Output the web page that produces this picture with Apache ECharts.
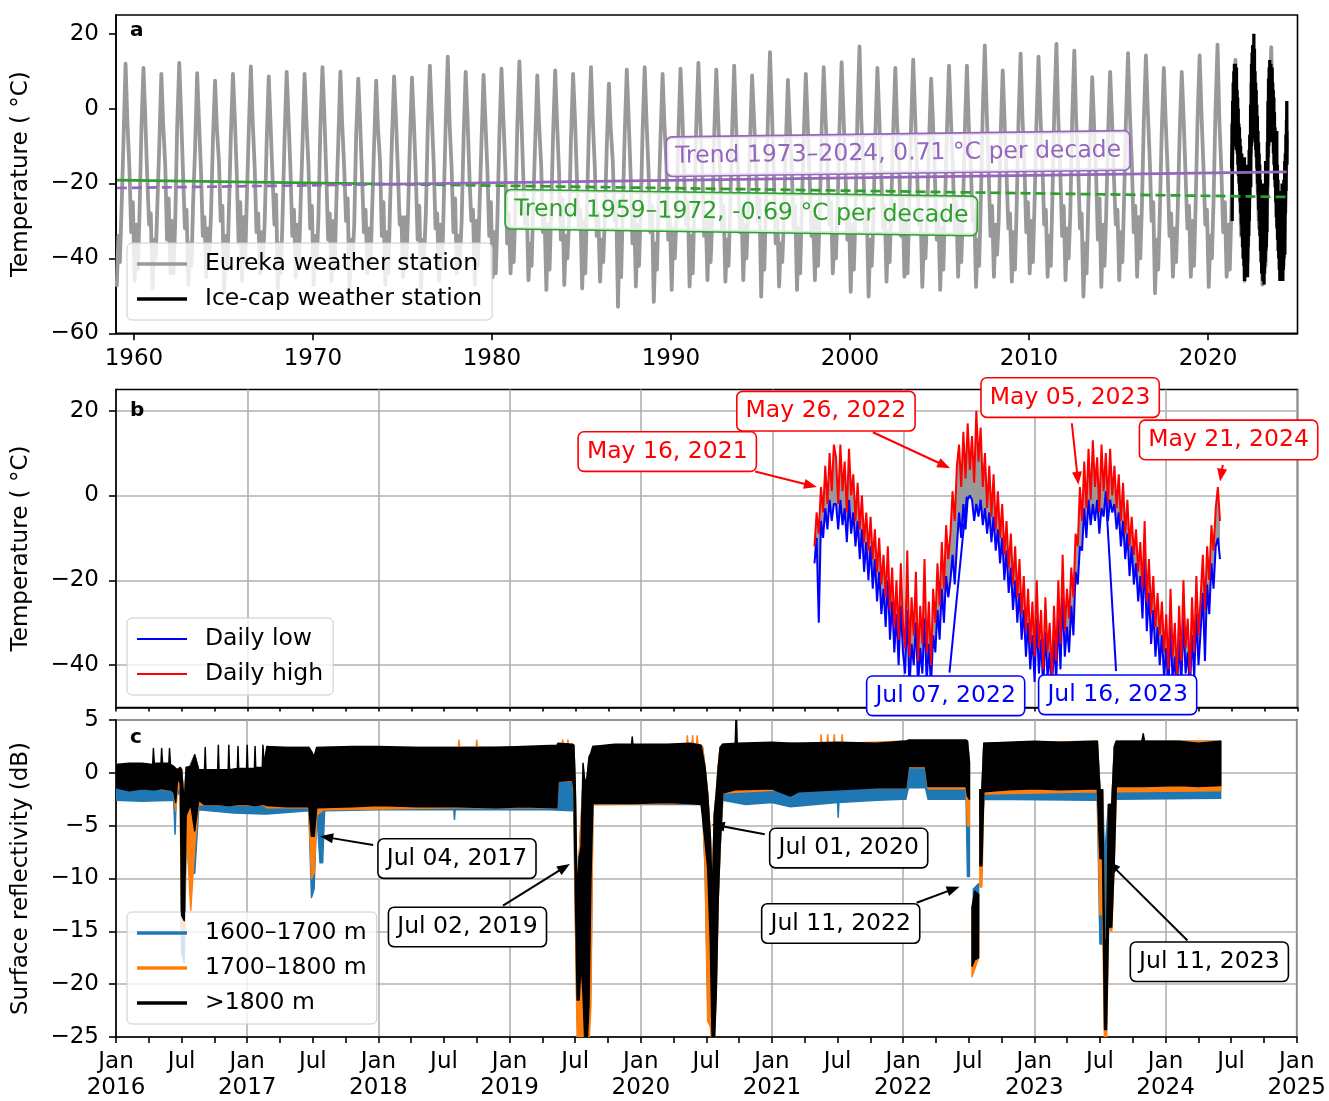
<!DOCTYPE html>
<html><head><meta charset="utf-8">
<script src="https://cdn.jsdelivr.net/npm/echarts@6/dist/echarts.min.js"></script>
<style>html,body{margin:0;padding:0;background:#fff}#c{width:1329px;height:1101px}</style>
</head><body><div id="c"></div>
<script>
// ================= DATA =================
// Panel a: Eureka weather station, one row per year from 1959, values at these month positions
const eurekaFirstYear = 1959;
const eurekaSampleMonths = [0.5, 1.6, 2.6, 3.7, 5.0, 6.4, 7.6, 9.0, 10.2, 11.3];
const eurekaRows = [
[-47.6,-34,-41,-27,-9,12.0,-3,-16,-33,-25],
[-46,-31,-43,-29,-6,10.9,-2,-19,-31,-28],
[-48,-35,-40,-26,-10,9.3,-4,-15,-35,-24],
[-44,-30,-44,-30,-5,12.2,-1,-18,-32,-27],
[-47,-36,-42,-25,-11,9.5,-3,-17,-34,-29],
[-45,-32,-39,-28,-8,7.5,-5,-14,-30,-26],
[-49,-34,-43,-27,-7,9.3,-2,-18,-36,-25],
[-46,-29,-41,-24,-6,11.3,-3,-16,-33,-28],
[-44,-33,-40,-30,-9,8.6,-4,-19,-31,-23],
[-48,-36,-44,-28,-8,9.8,-2,-17,-34,-27],
[-45,-31,-42,-26,-10,9.3,-3,-15,-32,-26],
[-47,-34,-41,-29,-5,11.1,-1,-18,-35,-28],
[-46,-30,-43,-25,-9,9.9,-4,-16,-30,-24],
[-49,-35,-40,-31,-7,8.0,-3,-19,-33,-27],
[-44,-32,-42,-27,-10,7.5,-5,-14,-34,-25],
[-47,-33,-44,-26,-8,8.6,-2,-17,-31,-29],
[-45,-29,-41,-29,-9,8.3,-3,-18,-35,-26],
[-48,-35,-39,-28,-5,11.5,-1,-15,-32,-28],
[-46,-31,-43,-25,-4,13.9,-4,-16,-33,-24],
[-44,-34,-40,-30,-8,9.8,-2,-19,-30,-27],
[-47,-30,-42,-26,-9,9.0,-3,-17,-34,-25],
[-45,-33,-44,-29,-7,10.7,-2,-16,-36,-28],
[-44.0,-32,-41,-27,-5,12.6,-1,-18,-31,-26],
[-45.8,-36,-42,-25,-9,8.9,-4,-15,-33,-29],
[-48.4,-31,-43,-28,-7,10.2,-3,-17,-35,-24],
[-47.1,-34,-40,-30,-8,9.3,-2,-19,-32,-27],
[-48.0,-30,-44,-26,-6,11.1,-3,-16,-34,-28],
[-46.2,-35,-41,-29,-10,6.7,-5,-14,-30,-25],
[-52.9,-33,-45,-27,-7,10.4,-2,-18,-36,-27],
[-47.5,-31,-42,-28,-6,11.1,-3,-17,-33,-26],
[-51.6,-36,-43,-25,-8,9.3,-4,-15,-35,-29],
[-48.4,-32,-40,-29,-7,10.7,-1,-19,-31,-25],
[-47.5,-34,-44,-26,-4,12.2,-3,-16,-34,-28],
[-45.8,-30,-41,-30,-7,10.4,-2,-18,-32,-26],
[-46.2,-35,-42,-27,-6,11.5,-4,-17,-33,-27],
[-45.8,-31,-40,-28,-9,8.9,-2,-15,-30,-24],
[-50.2,-33,-43,-25,-3,15.1,0,-18,-36,-28],
[-47.5,-36,-41,-30,-10,7.7,-4,-16,-32,-26],
[-48.4,-32,-44,-27,-8,9.3,-3,-19,-34,-29],
[-45.8,-30,-42,-29,-6,11.1,-2,-15,-31,-25],
[-44.0,-34,-40,-26,-5,12.4,-1,-17,-35,-27],
[-48.9,-31,-43,-28,-2,16.6,-3,-16,-33,-28],
[-50.2,-35,-42,-30,-7,10.9,-2,-18,-32,-26],
[-46.2,-33,-41,-25,-6,10.9,-4,-15,-34,-24],
[-44.9,-30,-44,-27,-4,13.1,-1,-17,-31,-27],
[-47.6,-34,-40,-29,-9,8.0,-3,-19,-35,-28],
[-48.4,-32,-43,-26,-6,11.5,-2,-16,-33,-25],
[-44.9,-29,-41,-28,-6,11.5,-4,-15,-30,-27],
[-47.6,-35,-42,-25,-1,16.9,0,-17,-34,-26],
[-44.9,-31,-39,-30,-7,10.2,-3,-18,-32,-28],
[-46.2,-33,-43,-27,-3,14.7,-2,-16,-33,-25],
[-44.0,-30,-41,-26,-4,13.9,-1,-15,-31,-27],
[-44.9,-34,-42,-24,0,17.3,-2,-17,-34,-26],
[-45.8,-32,-40,-28,-2,15.5,-3,-16,-32,-28],
[-50.2,-36,-44,-27,-8,8.4,-4,-18,-35,-24],
[-47.6,-31,-42,-29,-7,9.8,-2,-19,-31,-27],
[-45.8,-33,-41,-25,-3,14.8,-1,-15,-33,-26],
[-44.9,-29,-40,-26,-3,14.2,0,-14,-30,-25],
[-49.3,-35,-43,-28,-6,10.9,-3,-17,-34,-28],
[-44.9,-32,-41,-27,-7,9.8,-2,-18,-32,-26],
[-44.9,-30,-42,-26,-3,14.2,-1,-16,-31,-27],
[-47.6,-34,-40,-25,-1,17.1,-3,-17,-33,-25],
[-44.9,-31,-43,-27,-4,13,-2,-16,-34,-28],
[-46,-33,-41,-26,-2,15,-1,-18,-32,-26],
[-47,-32,-42,-25,-3,16.4,-3,-15,-31,-27],
[-45,-33,-42,-27,-8]
];

// Ice-cap weather station: daily high / low, sampled every 6 days from 2021-04-28
const iceStartDate = '2021-04-28';
const iceStepDays = 6;
const iceHigh = [
-12,-4,-9, 2, -4,7,-2,10,1,12, 9,-2,12,1,8,-4,11,0, 5,-6,3,-8,0,-11,-4,
-13,-5,-15,-8,-18,-10,-21, -14,-24,-12,-27,-17,-31,-20,-34,-16,-30,
-36,-13,-38,-24,-33,-18,-39,-26,-35,-15,-37,-25,-40,-22,
-30,-16,-26,-11,-22,-7,-15, -9,1,-6,7, 12,2,15,4,17,6, 14,3,20,8,16,2,
10,-3,7,-5,5,-8,1, -10,-2,-14,-6,-17,-9,-21,-12,-24,-15,
-28,-19,-32,-22,-35,-25,-38,-20,-36,
-27,-41,-24,-37,-30,-43,-26,-39,-20,-35,-14,-32,-22,
-29,-17,-24,-9,-12, 2, -6,8,-3,11,-1,13,2,9,-4,12,1, 10, -2,11,0,7,-3,
5,-6,3,-9,-1,-12,-5,-14, -8,-18,-11,-22,-6,-25,-15,-28,-19,-31,-23,-33,
-25,-37,-28,-41,-22,-38,-30,-43,-26,-39,-20,-36,-29,-42,-24,-37,-19,-33,
-24,-14,-27,-12,-20,-7,-13,-3,2, -6
];
const iceLow = [
-16,-10,-30, -6, -10,-3,-8,-1,-6,-2, -2,-8,-1,-7,-3,-11,-1,-9, -4,-12,-6,-15,-8,-18,-11,
-20,-12,-22,-15,-25,-18,-28, -22,-31,-20,-34,-25,-37,-28,-40,-26,-37,
-42,-27,-46,-35,-40,-30,-45,-36,-42,-29,-44,-35,-45,-33,
-37,-27,-34,-22,-30,-19,-24, -20,-14,-21,-12, -4,-10,-2,-8,-1,0, -1,-6,-2,-5,-1,-7,
-3,-9,-4,-11,-5,-13,-8, -16,-10,-20,-13,-23,-17,-27,-20,-30,-23,
-34,-27,-38,-30,-41,-33,-44,-29,-42,
-34,-46,-32,-43,-37,-47,-34,-44,-29,-41,-24,-38,-31,
-37,-26,-33,-18,-21, -12, -13,-3,-10,-1,-7,-2,-6,-1,-9,-3,-5, 1, -6,-1,-4,-2,-8,
-4,-12,-6,-15,-9,-19,-12,-21, -16,-25,-19,-29,-15,-32,-23,-35,-27,-38,-31,-40,
-33,-43,-36,-46,-31,-44,-38,-46,-34,-45,-29,-42,-37,-46,-33,-43,-28,-40,
-32,-23,-39,-21,-28,-16,-22,-12,-10, -15
];

// Trend lines (year, °C)
const trendGreen = [[1959.05,-19.1],[1973.5,-20.1],[2024.4,-23.6]];
const trendPurple = [[1959.05,-21.2],[1973.5,-20.25],[2024.4,-16.9]];

// Surface reflectivity envelopes: [decimal year, lower dB, upper dB]; null = gap
const refl1600 = [
[2016.00,-2.6,0.8],[2016.20,-2.7,0.8],[2016.44,-2.6,0.6],[2016.45,-5.8,0.3],[2016.46,-2.0,0.3],[2016.49,-2.0,0.5],[2016.50,-17,0.3],[2016.52,-18,-3],[2016.535,-6,0.5],[2016.56,-9.5,0.6],[2016.60,-9.5,1.7],[2016.63,-3.5,0.3],
[2016.90,-3.8,0.3],[2017.13,-3.9,0.3],[2017.15,-3.9,2.4],[2017.47,-3.6,2.4],[2017.49,-11.8,2.0],[2017.51,-11.0,1.5],[2017.53,-3.7,2.4],[2017.555,-8.5,2.0],[2017.575,-8.5,2.0],[2017.59,-3.6,2.4],
[2018.00,-3.5,2.4],[2018.575,-3.5,2.4],[2018.58,-4.4,2.4],[2018.585,-3.5,2.4],[2019.30,-3.5,2.5],[2019.48,-3.6,2.6],
[2019.49,-3.6,2.6],[2019.50,-12.5,-1],[2019.515,-23.5,-12],[2019.53,-24,-8],[2019.56,-24,-1],[2019.59,-24,-0.5],[2019.605,-24,1],[2019.62,-20,1.5],[2019.635,-3.0,2.5],
[2020.47,-3.0,2.5],[2020.49,-9,0.5],[2020.51,-21.5,-2],[2020.53,-22,-6],[2020.545,-24,-12],[2020.56,-24,-4],[2020.575,-20,-2],[2020.59,-12,0.5],[2020.605,-7,2.4],[2020.625,-2.6,2.7],
[2020.80,-3.0,2.7],[2021.00,-2.8,2.8],[2021.14,-3.2,2.8],[2021.50,-2.8,2.8],[2021.505,-4.2,2.8],[2021.51,-2.8,2.8],[2021.80,-2.6,2.8],[2022.00,-2.5,3.0],
[2022.02,-2.5,3.0],[2022.04,-1.4,3.0],[2022.17,-1.4,3.0],[2022.19,-2.5,3.0],[2022.48,-2.5,3.0],
[2022.49,-9.8,3.0],[2022.505,-9.8,1.0], null,
[2022.535,-14.5,-11],[2022.575,-15,-10.5], null,
[2022.585,-5.5,-1.6],[2022.60,-5.5,-1.6],[2022.615,-2.5,2.8],
[2023.48,-2.6,3.0],[2023.50,-16.2,-1.6],[2023.52,-16.2,-1.6],[2023.535,-16,-8],[2023.565,-14,-3.0],[2023.59,-14,-3.0],[2023.61,-3.0,2.5],[2023.625,-2.5,3.0],
[2024.42,-2.4,3.0]
];
const refl1700 = [
[2016.00,-1.4,0.8],[2016.44,-1.6,0.6],[2016.455,-3.6,0.4],[2016.47,-1.5,0.3],[2016.49,-1.5,0.5],[2016.50,-15,0.3],[2016.52,-15.5,-3],[2016.535,-5,0.5],[2016.57,-13,0.6],[2016.60,-7,1.7],[2016.63,-3.0,0.3],
[2017.13,-3.1,0.3],[2017.15,-3.3,2.4],[2017.47,-3.3,2.4],[2017.49,-10.0,2.0],[2017.51,-9.5,1.5],[2017.53,-4.0,2.4],[2017.58,-3.5,2.4],
[2018.61,-3.3,2.4],[2018.615,-3.3,3.1],[2018.62,-3.3,2.4],[2018.745,-3.3,2.4],[2018.75,-3.3,3.1],[2018.755,-3.3,2.4],
[2019.36,-3.3,2.5],[2019.37,-0.8,2.6],[2019.40,-0.8,2.6],[2019.405,-0.8,3.1],[2019.41,-0.8,2.6],[2019.44,-0.8,2.6],[2019.445,-0.8,3.1],[2019.45,-0.8,2.6],[2019.48,-0.8,2.7],
[2019.49,-2.0,2.6],[2019.50,-12.5,-1],[2019.515,-25.3,-12],[2019.53,-26,-8],[2019.56,-26,-1],[2019.59,-26,-0.5],[2019.605,-26,1],[2019.62,-22,1.5],[2019.635,-3.0,2.5],
[2020.35,-2.9,2.7],[2020.355,-2.9,3.5],[2020.36,-2.9,2.7],[2020.39,-2.9,2.7],[2020.395,-2.9,3.5],[2020.40,-2.9,2.7],[2020.425,-2.9,2.7],[2020.43,-2.9,3.5],[2020.435,-2.9,2.7],[2020.47,-3.0,2.5],
[2020.49,-9,0.5],[2020.51,-23.5,-2],[2020.53,-24,-6],[2020.545,-26,-12],[2020.56,-26,-4],[2020.575,-21,-2],[2020.59,-12,0.5],[2020.605,-7,2.4],[2020.625,-1.9,2.7],
[2021.37,-1.4,2.8],[2021.375,-1.4,3.6],[2021.38,-1.4,2.8],[2021.42,-1.4,2.8],[2021.425,-1.4,3.6],[2021.43,-1.4,2.8],[2021.47,-1.4,2.8],[2021.475,-1.4,3.6],[2021.48,-1.4,2.8],[2021.53,-1.4,2.8],[2021.535,-1.4,3.6],[2021.54,-1.4,2.8],[2022.00,-1.4,3.0],
[2022.02,-1.4,3.0],[2022.04,0.5,3.0],[2022.17,0.5,3.0],[2022.19,-1.5,3.0],[2022.48,-1.5,3.0],
[2022.49,-5.0,3.0],[2022.505,-5.0,1.0], null,
[2022.525,-19.3,-12.7],[2022.575,-17.5,-11.5], null,
[2022.585,-10.8,-1.6],[2022.60,-10.8,-1.6],[2022.615,-2.0,2.8],
[2023.48,-1.8,3.0],[2023.50,-13.4,-1.6],[2023.52,-13.4,-1.6],[2023.535,-25.9,-15.8],[2023.55,-25.9,-15.8],[2023.565,-14.6,-3.0],[2023.59,-15,-3.0],[2023.61,-8.0,2.5],[2023.625,-1.8,3.0],
[2024.42,-1.7,3.0]
];
const refl1800 = [
[2016.00,-1.4,0.8],[2016.10,-1.7,0.9],[2016.20,-1.5,0.9],[2016.28,-1.6,0.8],[2016.285,-1.6,2.3],[2016.292,-1.6,0.9],
[2016.343,-1.5,0.9],[2016.348,-1.5,2.3],[2016.355,-1.5,0.9],[2016.403,-1.6,0.9],[2016.408,-1.6,2.3],[2016.415,-1.6,0.8],
[2016.44,-1.8,0.6],[2016.455,-2.8,0.4],[2016.47,-0.5,0.3],[2016.49,-1.0,0.5],[2016.50,-13.5,0.3],[2016.52,-14.0,-3.0],
[2016.535,-4.0,0.5],[2016.57,-3.0,0.6],[2016.60,-5.5,1.7],[2016.63,-2.6,0.3],
[2016.675,-3.0,0.3],[2016.68,-3.0,2.4],[2016.685,-3.0,0.3],
[2016.775,-3.0,0.3],[2016.78,-3.0,2.6],[2016.785,-3.0,0.3],
[2016.855,-3.1,0.3],[2016.86,-3.1,2.6],[2016.865,-3.1,0.3],
[2016.925,-3.0,0.4],[2016.93,-3.0,2.5],[2016.935,-3.0,0.4],
[2016.995,-3.0,0.4],[2017.0,-3.0,2.6],[2017.005,-3.0,0.4],
[2017.055,-3.1,0.4],[2017.06,-3.1,2.5],[2017.065,-3.1,0.5],
[2017.115,-3.0,0.5],[2017.12,-3.0,2.6],[2017.13,-3.0,0.8],
[2017.15,-3.1,2.5],[2017.30,-3.2,2.4],[2017.47,-3.2,2.4],[2017.49,-6.0,2.0],[2017.51,-6.0,1.5],[2017.53,-3.3,2.4],
[2017.80,-3.2,2.5],[2018.00,-3.1,2.5],[2018.30,-3.2,2.4],[2018.60,-3.2,2.4],[2018.90,-3.3,2.4],[2019.10,-3.2,2.5],[2019.36,-3.3,2.6],
[2019.37,-0.8,2.8],[2019.48,-0.7,2.7],
[2019.49,-1.5,2.6],[2019.50,-10,-1],[2019.515,-21.5,-12],[2019.53,-21.5,-8],[2019.545,-18,-7],[2019.56,-21,0.9],[2019.575,-26,-1],[2019.59,-26,-0.5],[2019.605,-22,1.5],[2019.62,-10,1.9],[2019.635,-2.9,2.5],
[2019.80,-2.9,2.7],[2019.93,-2.9,2.7],[2019.935,-2.9,3.4],[2019.94,-2.9,2.7],[2020.20,-2.8,2.7],[2020.38,-2.9,2.8],[2020.46,-3.0,2.6],
[2020.49,-6.5,0.5],[2020.51,-9,-2],[2020.53,-16,-6],[2020.545,-26,-12],[2020.56,-26,-4],[2020.575,-21,-2],[2020.59,-12,0.5],[2020.605,-7,2.4],[2020.625,-1.9,2.7],
[2020.72,-1.6,2.8],[2020.728,-1.6,6],[2020.735,-1.6,2.8],[2021.00,-1.5,2.9],[2021.14,-2.2,2.8],[2021.20,-1.8,2.8],[2021.50,-1.6,2.9],[2021.80,-1.4,2.8],[2022.00,-1.4,3.0],
[2022.02,-1.4,3.0],[2022.04,0.6,3.1],[2022.17,0.6,3.1],[2022.19,-1.3,3.1],[2022.48,-1.3,3.1],
[2022.49,-2.2,3.0],[2022.505,-2.5,1.0], null,
[2022.525,-18.3,-12.7],[2022.545,-17.7,-11.2],[2022.575,-17.5,-11.5], null,
[2022.585,-8.8,-1.6],[2022.60,-8.8,-1.6],[2022.615,-1.8,2.8],
[2022.80,-1.6,2.9],[2023.00,-1.5,3.0],[2023.20,-1.6,2.9],[2023.48,-1.5,3.0],
[2023.50,-8.1,-1.6],[2023.52,-8.1,-1.6],[2023.535,-24.3,-15.8],[2023.55,-24.3,-15.8],[2023.565,-14.6,-3.0],[2023.59,-14.6,-3.0],[2023.61,-8.0,2.5],[2023.625,-1.3,3.0],
[2023.82,-1.3,3.0],[2023.83,-1.3,3.7],[2023.84,-1.3,3.0],[2024.10,-1.2,3.0],[2024.25,-1.3,2.8],[2024.42,-1.2,3.0]
];

// Tick values
const yearTicksA = [1960,1970,1980,1990,2000,2010,2020];
const tempTicksA = [-60,-40,-20,0,20];
const tempTicksB = [-40,-20,0,20];

// Annotations (data coordinates)
const trendLabels = [
  {text:'Trend 1973\u20132024, 0.71 \u00B0C per decade', color:'#9467bd', at:[2002.69,-12.0], along:[trendPurple[1],trendPurple[2]]},
  {text:'Trend 1959\u20131972, -0.69 \u00B0C per decade', color:'#2ca02c', at:[1993.93,-27.76], along:[trendGreen[0],trendGreen[2]]}
];
const eventLabelsB = [
  {text:'May 16, 2021', color:'#ff0000', at:[2020.199,10.35], tail:[2020.869,5.65], tip:[2021.339,1.98], head:true},
  {text:'May 26, 2022', color:'#ff0000', at:[2021.408,19.88], tail:[2021.765,14.92], tip:[2022.354,6.45], head:true},
  {text:'May 05, 2023', color:'#ff0000', at:[2023.268,23.1], tail:[2023.281,17.04], tip:[2023.331,2.52], head:true},
  {text:'May 21, 2024', color:'#ff0000', at:[2024.475,13.1], tail:[2024.431,7.22], tip:[2024.41,3.29], head:true},
  {text:'Jul 07, 2022', color:'#0000ff', at:[2022.32,-47.25], tail:[2022.349,-41.79], tip:[2022.481,-0.24], head:false},
  {text:'Jul 16, 2023', color:'#0000ff', at:[2023.63,-47.0], tail:[2023.618,-41.41], tip:[2023.542,-1.01], head:false}
];
const eventLabelsC = [
  {text:'Jul 04, 2017', at:[2018.599,-8.11], tail:[2017.96,-6.84], tip:[2017.556,-5.99]},
  {text:'Jul 02, 2019', at:[2018.679,-14.59], tail:[2018.95,-12.57], tip:[2019.46,-8.62]},
  {text:'Jul 01, 2020', at:[2021.585,-7.12], tail:[2020.945,-5.81], tip:[2020.541,-4.87]},
  {text:'Jul 11, 2022', at:[2021.524,-14.26], tail:[2022.103,-12.29], tip:[2022.43,-10.78]},
  {text:'Jul 11, 2023', at:[2024.334,-17.88], tail:[2024.167,-15.86], tip:[2023.558,-8.35]}
];

// ================= BUILD =================
const FONT = 'DejaVu Sans';
const FS = 23;
const FSA = 23.5;
function decYear(ms){ const d=new Date(ms); const y=d.getUTCFullYear(); const s=Date.UTC(y,0,1), e=Date.UTC(y+1,0,1); return y+(ms-s)/(e-s); }
const iceStartMs = Date.parse(iceStartDate+'T00:00:00Z');
const DAY = 86400000;
const iceDates = iceHigh.map((_,i)=>decYear(iceStartMs + i*iceStepDays*DAY));
const iceMidDates = iceHigh.map((_,i)=>decYear(iceStartMs + (i*iceStepDays+iceStepDays/2)*DAY));

const eurekaData = [];
eurekaRows.forEach((row,r)=>row.forEach((v,k)=>eurekaData.push([eurekaFirstYear + r + eurekaSampleMonths[k]/12, v])));
const iceZigzag = [];
iceLow.forEach((v,i)=>{ iceZigzag.push([iceDates[i], v]); iceZigzag.push([iceMidDates[i], iceHigh[i]]); });
const iceLowData = iceLow.map((v,i)=>[iceDates[i], v]);
const iceHighData = iceHigh.map((v,i)=>[iceDates[i], v]);
const iceBand = iceLow.map((v,i)=>[iceDates[i], v, iceHigh[i]]);

function fmtNum(v){ return v<0 ? '\u2212'+Math.abs(v) : String(v); }
function fmtYear(v){ return String(v); }
function monthLabel(v){ const q=Math.round((v-2016)*4); if(q%4===0) return 'Jan\n'+Math.round(v); if(q%4===2) return 'Jul'; return ''; }

function bandSeries(name, rows, color, xi, yi, z, sw){
  const first = rows.find(r=>r);
  return {
    type:'custom', name:name, xAxisIndex:xi, yAxisIndex:yi, z:z, silent:true,
    itemStyle:{color:color},
    data:[[first[0], first[1]]],
    renderItem:function(params, api){
      const cs = params.coordSys;
      const children = [];
      let seg = [];
      const flush = function(){
        if(seg.length>1){
          const top = seg.map(r=>api.coord([r[0], r[2]]));
          const bot = seg.slice().reverse().map(r=>api.coord([r[0], r[1]]));
          children.push({type:'polygon', shape:{points:top.concat(bot)}, style:{fill:color, stroke:sw>0?color:null, lineWidth:sw, lineJoin:'round'}});
        }
        seg = [];
      };
      rows.forEach(r=>{ if(r) seg.push(r); else flush(); });
      flush();
      return {type:'group', children:children, clipPath:{type:'rect', shape:{x:cs.x, y:cs.y, width:cs.width, height:cs.height}}};
    }
  };
}

const tickLine = {color:'#000', width:1.6};
const gridLineStyle = {color:'#b0b0b0', width:1.6};
const labelBase = {fontSize:FS, color:'#000', fontFamily:FONT};

const GL = 116, GW = 1181.5;
const option = {
  animation:false,
  backgroundColor:'#fff',
  textStyle:{fontFamily:FONT},
  grid:[
    {left:GL, top:15, width:GW, height:318.3, show:true, borderColor:'#000', borderWidth:1.6, backgroundColor:'transparent'},
    {left:GL, top:389.5, width:GW, height:318, show:true, borderColor:'#000', borderWidth:1.6, backgroundColor:'transparent'},
    {left:GL, top:720, width:GW, height:319.3, show:true, borderColor:'#000', borderWidth:1.6, backgroundColor:'transparent'}
  ],
  xAxis:[
    {gridIndex:0, type:'value', min:1959, max:2025, axisLine:{show:true, onZero:false, lineStyle:tickLine},
      axisTick:{show:true, length:7, customValues:yearTicksA, lineStyle:tickLine},
      axisLabel:Object.assign({customValues:yearTicksA, formatter:fmtYear, margin:13, lineHeight:26}, labelBase), splitLine:{show:false}},
    {gridIndex:1, type:'value', min:2016, max:2025, interval:0.25, axisLine:{show:true, onZero:false, lineStyle:tickLine},
      axisTick:{show:true, length:4, lineStyle:tickLine}, axisLabel:{show:false}, splitLine:{show:false}},
    {gridIndex:1, type:'value', min:2016, max:2025, interval:1, position:'top', axisLine:{show:false, onZero:false},
      axisTick:{show:false}, axisLabel:{show:false}, splitLine:{show:true, lineStyle:gridLineStyle}},
    {gridIndex:2, type:'value', min:2016, max:2025, interval:0.25, axisLine:{show:true, onZero:false, lineStyle:tickLine},
      axisTick:{show:true, length:6, lineStyle:tickLine},
      axisLabel:Object.assign({formatter:monthLabel, margin:12, lineHeight:26, showMinLabel:true, showMaxLabel:true}, labelBase), splitLine:{show:false}},
    {gridIndex:2, type:'value', min:2016, max:2025, interval:1, position:'top', axisLine:{show:false, onZero:false},
      axisTick:{show:false}, axisLabel:{show:false}, splitLine:{show:true, lineStyle:gridLineStyle}}
  ],
  yAxis:[
    {gridIndex:0, type:'value', min:-60, max:25, name:'Temperature ( \u00B0C)', nameLocation:'middle', nameGap:83,
      nameTextStyle:labelBase, axisLine:{show:true, onZero:false, lineStyle:tickLine},
      axisTick:{show:true, length:7, customValues:tempTicksA, lineStyle:tickLine},
      axisLabel:Object.assign({customValues:tempTicksA, formatter:fmtNum, margin:17}, labelBase), splitLine:{show:false}},
    {gridIndex:1, type:'value', min:-50, max:25, name:'Temperature ( \u00B0C)', nameLocation:'middle', nameGap:83,
      nameTextStyle:labelBase, axisLine:{show:true, onZero:false, lineStyle:tickLine},
      axisTick:{show:true, length:7, customValues:tempTicksB, lineStyle:tickLine},
      axisLabel:Object.assign({customValues:tempTicksB, formatter:fmtNum, margin:17}, labelBase), splitLine:{show:true, lineStyle:gridLineStyle}},
    {gridIndex:2, type:'value', min:-25, max:5, interval:5, name:'Surface reflectivity (dB)', nameLocation:'middle', nameGap:83,
      nameTextStyle:labelBase, axisLine:{show:true, onZero:false, lineStyle:tickLine},
      axisTick:{show:true, length:7, lineStyle:tickLine},
      axisLabel:Object.assign({formatter:fmtNum, margin:17, showMinLabel:true, showMaxLabel:true}, labelBase), splitLine:{show:true, lineStyle:gridLineStyle}}
  ],
  legend:[
    {data:['Eureka weather station','Ice-cap weather station'], left:127, top:243, orient:'vertical', icon:'rect', itemWidth:50, itemHeight:3.3, itemGap:9,
      padding:[8,10,8,10], backgroundColor:'rgba(255,255,255,0.8)', borderColor:'#cccccc', borderWidth:1, borderRadius:5, selectedMode:false,
      textStyle:{fontSize:FSA, color:'#000', fontFamily:FONT, lineHeight:26, padding:[0,0,0,13]}},
    {data:['Daily low','Daily high'], left:127, top:618, orient:'vertical', icon:'rect', itemWidth:50, itemHeight:2.2, itemGap:9,
      padding:[8,10,8,10], backgroundColor:'rgba(255,255,255,0.8)', borderColor:'#cccccc', borderWidth:1, borderRadius:5, selectedMode:false,
      textStyle:{fontSize:FSA, color:'#000', fontFamily:FONT, lineHeight:26, padding:[0,0,0,13]}},
    {data:['1600\u20131700 m','1700\u20131800 m','>1800 m'], left:127, top:912, orient:'vertical', icon:'rect', itemWidth:50, itemHeight:3.3, itemGap:9,
      padding:[8,10,8,10], backgroundColor:'rgba(255,255,255,0.8)', borderColor:'#cccccc', borderWidth:1, borderRadius:5, selectedMode:false,
      textStyle:{fontSize:FSA, color:'#000', fontFamily:FONT, lineHeight:26, padding:[0,0,0,13]}}
  ],
  series:[
    {type:'line', name:'Eureka weather station', xAxisIndex:0, yAxisIndex:0, data:eurekaData, showSymbol:false, symbol:'none', z:2, silent:true,
      color:'#999999', lineStyle:{color:'#999999', width:3.8, join:'round'}},
    {type:'line', name:'Ice-cap weather station', xAxisIndex:0, yAxisIndex:0, data:iceZigzag, showSymbol:false, symbol:'none', z:3, silent:true,
      color:'#000000', lineStyle:{color:'#000000', width:3.3}},
    {type:'line', xAxisIndex:0, yAxisIndex:0, data:trendGreen.slice(0,2), showSymbol:false, symbol:'none', z:4, silent:true,
      lineStyle:{color:'#2ca02c', width:2.7}},
    {type:'line', xAxisIndex:0, yAxisIndex:0, data:trendGreen.slice(1), showSymbol:false, symbol:'none', z:4, silent:true,
      lineStyle:{color:'#2ca02c', width:2.7, type:[10,5]}},
    {type:'line', xAxisIndex:0, yAxisIndex:0, data:trendPurple.slice(0,2), showSymbol:false, symbol:'none', z:4, silent:true,
      lineStyle:{color:'#9467bd', width:2.7, type:[10,5]}},
    {type:'line', xAxisIndex:0, yAxisIndex:0, data:trendPurple.slice(1), showSymbol:false, symbol:'none', z:4, silent:true,
      lineStyle:{color:'#9467bd', width:2.7}},
    bandSeries('iceMeanBand', iceBand, '#999999', 1, 1, 1, 0),
    {type:'line', name:'Daily low', xAxisIndex:1, yAxisIndex:1, data:iceLowData, showSymbol:false, symbol:'none', z:2, silent:true,
      color:'#0000ff', lineStyle:{color:'#0000ff', width:2}},
    {type:'line', name:'Daily high', xAxisIndex:1, yAxisIndex:1, data:iceHighData, showSymbol:false, symbol:'none', z:3, silent:true,
      color:'#ff0000', lineStyle:{color:'#ff0000', width:2}},
    bandSeries('1600\u20131700 m', refl1600, '#1f77b4', 3, 2, 2, 1.5),
    bandSeries('1700\u20131800 m', refl1700, '#ff7f0e', 3, 2, 3, 1.5),
    bandSeries('>1800 m', refl1800, '#000000', 3, 2, 4, 1.5)
  ]
};

const chart = echarts.init(document.getElementById('c'), null, {renderer:'canvas'});
chart.setOption(option);

// ---------- annotations ----------
function px(xi, yi, p){ return chart.convertToPixel({xAxisIndex:xi, yAxisIndex:yi}, p); }
function arrowEls(xi, yi, tail, tip, color, head){
  const a = px(xi,yi,tail), b = px(xi,yi,tip);
  const dx=b[0]-a[0], dy=b[1]-a[1], len=Math.hypot(dx,dy), ux=dx/len, uy=dy/len;
  const HL=13, HW=5;
  const end = head ? [b[0]-ux*HL*0.8, b[1]-uy*HL*0.8] : b;
  const els = [{type:'line', z:100, shape:{x1:a[0], y1:a[1], x2:end[0], y2:end[1]}, style:{stroke:color, lineWidth:2}}];
  if(head){
    els.push({type:'polygon', z:100, shape:{points:[[b[0],b[1]],[b[0]-ux*HL-uy*HW, b[1]-uy*HL+ux*HW],[b[0]-ux*HL+uy*HW, b[1]-uy*HL-ux*HW]]}, style:{fill:color}});
  }
  return els;
}
function boxText(p, text, color, bg, rot){
  return {type:'text', z:101, x:p[0], y:p[1], rotation:rot||0,
    style:{text:text, fill:color, font:FSA+'px "'+FONT+'"', align:'center', verticalAlign:'middle', lineHeight:26,
      backgroundColor:bg, borderColor:color, borderWidth:1.6, borderRadius:5, padding:[6,8,6,8]}};
}
const graphics = [];
trendLabels.forEach(t=>{
  const a = px(0,0,t.along[0]), b = px(0,0,t.along[1]);
  const rot = -Math.atan2(b[1]-a[1], b[0]-a[0]);
  graphics.push(boxText(px(0,0,t.at), t.text, t.color, 'rgba(255,255,255,0.8)', rot));
});
eventLabelsB.forEach(t=>{
  arrowEls(1,1,t.tail,t.tip,t.color,t.head).forEach(e=>graphics.push(e));
  graphics.push(boxText(px(1,1,t.at), t.text, t.color, '#ffffff', 0));
});
eventLabelsC.forEach(t=>{
  arrowEls(3,2,t.tail,t.tip,'#000000',true).forEach(e=>graphics.push(e));
  graphics.push(boxText(px(3,2,t.at), t.text, '#000000', '#ffffff', 0));
});
[['a',30.7],['b',410.7],['c',738]].forEach(l=>{
  graphics.push({type:'text', z:102, x:130, y:l[1], style:{text:l[0], fill:'#000', font:'bold 20px "'+FONT+'"', align:'left', verticalAlign:'middle'}});
});
chart.setOption({graphic:graphics});
</script>
</body></html>
